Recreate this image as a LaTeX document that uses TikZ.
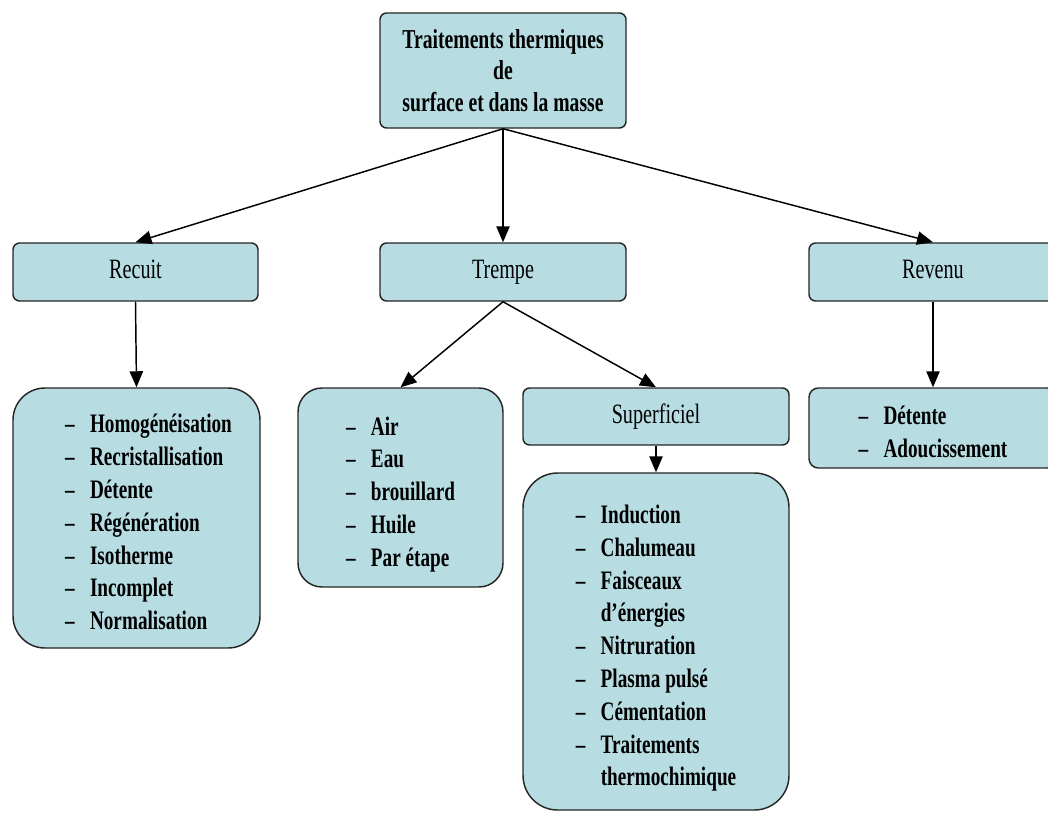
\documentclass[tikz,border=0pt]{standalone}
\usepackage{fontspec}
\setmainfont{Liberation Serif}[FakeStretch=0.72]
\usetikzlibrary{arrows.meta}
\definecolor{boxblue}{RGB}{183,221,227}
% dashed item list, drawn a little lower than its box centre
\newcommand{\itemblock}[2][0pt]{\raisebox{-5pt}[\height][\depth]{%
  \begin{tabular}{@{\hspace{#1}}l@{\hspace{11.5pt}}l@{}}#2\end{tabular}}}

\begin{document}
\begin{tikzpicture}[x=0.75pt, y=-0.75pt,
  box/.style={draw=black!85, line width=1.1pt, fill=boxblue, rounded corners=5pt, inner sep=2pt},
  headbox/.style={box, minimum height=43.5pt, text height=14pt, text depth=4pt,
    font=\fontsize{21}{24}\selectfont},
  listbox/.style={box, font=\bfseries\fontsize{20}{24.6}\selectfont},
  link/.style={-{Triangle[length=12pt, width=10pt]}, line width=1.1pt}]
\useasboundingbox (0,0) rectangle (1048,817);
\clip (0,0) rectangle (1048,817);
% main box
\node[box, minimum width=184.5pt, minimum height=86.25pt, align=center,
  font=\bfseries\fontsize{20.5}{23.5}\selectfont] (traitements) at (503,70.5)
  {Traitements thermiques\\de\\surface et dans la masse};
% second row
\node[headbox, minimum width=183.75pt] (recuit) at (135.5,272) {Recuit};
\node[headbox, minimum width=184.5pt] (trempe) at (503,272) {Trempe};
\node[headbox, minimum width=186pt] (revenu) at (933,272) {Revenu};
% lists
\node[listbox, rounded corners=24pt, minimum width=185.25pt, minimum height=195pt] (recuitL) at (136.5,518)
  {\itemblock[18pt]{
   -- & Homogénéisation\\
   -- & Recristallisation\\
   -- & Détente\\
   -- & Régénération\\
   -- & Isotherme\\
   -- & Incomplet\\
   -- & Normalisation}};
\node[listbox, rounded corners=18pt, minimum width=153.75pt, minimum height=149.25pt] (trempeL) at (400.5,487.5)
  {\itemblock{
   -- & Air\\
   -- & Eau\\
   -- & brouillard\\
   -- & Huile\\
   -- & Par étape}};
\node[headbox, minimum width=199.5pt, minimum height=42.75pt] (superficiel) at (656,416.5) {Superficiel};
\node[listbox, rounded corners=26pt, minimum width=199.5pt, minimum height=252.75pt] (superficielL) at (656,641.5)
  {\itemblock{
   -- & Induction\\
   -- & Chalumeau\\
   -- & Faisceaux\\
      & d’énergies\\
   -- & Nitruration\\
   -- & Plasma pulsé\\
   -- & Cémentation\\
   -- & Traitements\\
      & thermochimique}};
\node[listbox, rounded corners=7pt, minimum width=186pt, minimum height=60pt] (revenuL) at (933,428)
  {\itemblock{
   -- & Détente\\
   -- & Adoucissement}};
% connectors
\draw[link] (traitements.south) -- (recuit.north);
\draw[link] (traitements.south) -- (trempe.north);
\draw[link] (traitements.south) -- (revenu.north);
\draw[link] (recuit.south) -- (recuitL.north);
\draw[link] (trempe.south) -- (trempeL.north);
\draw[link] (trempe.south) -- (superficiel.north);
\draw[link] (superficiel.south) -- (superficielL.north);
\draw[link] (revenu.south) -- (revenuL.north);
\end{tikzpicture}
\end{document}
